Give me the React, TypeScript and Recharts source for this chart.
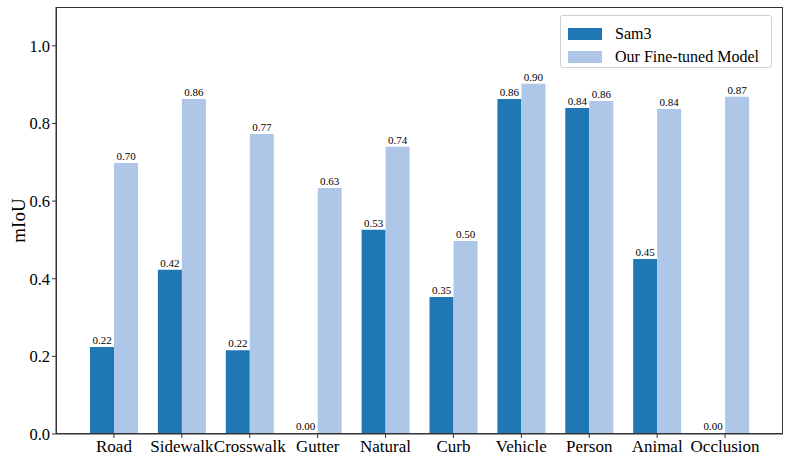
import { BarChart, Bar, XAxis, YAxis, LabelList } from "recharts"

const CATEGORIES = ["Road", "Sidewalk", "Crosswalk", "Gutter", "Natural", "Curb", "Vehicle", "Person", "Animal", "Occlusion"]
const SAM3 = [0.224, 0.423, 0.216, 0.0, 0.526, 0.353, 0.863, 0.840, 0.451, 0.0]
const FINETUNED = [0.698, 0.863, 0.773, 0.634, 0.740, 0.497, 0.902, 0.858, 0.837, 0.869]
const Y_TICKS = [0, 0.2, 0.4, 0.6, 0.8, 1.0]

const SERIES = [
  { key: "sam3", name: "Sam3", color: "#1f77b4" },
  { key: "ft", name: "Our Fine-tuned Model", color: "#aec7e8" },
]

const data = CATEGORIES.map((c, i) => ({ cat: c, sam3: SAM3[i], ft: FINETUNED[i] }))

const FONT = "'Liberation Serif', 'Times New Roman', serif"
const AXIS = "#333333"

export default function App() {
  return (
    <div style={{ position: "fixed", left: 0, top: 0, width: 789, height: 460, background: "#fff", fontFamily: FONT }}>
      <BarChart width={789} height={460} data={data}
        margin={{ top: 7, right: 6, bottom: 0, left: 0 }}
        barGap={0} barCategoryGap={0}>
        <XAxis dataKey="cat" height={26} padding={{ left: 24, right: 24 }}
          stroke={AXIS} tickSize={4} interval={0}
          tick={{ fill: "#000", fontSize: 17, fontFamily: FONT }} />
        <YAxis domain={[0, 1.1]} ticks={Y_TICKS} width={56} stroke={AXIS} tickSize={4}
          tickFormatter={(v: number) => v.toFixed(1)}
          tick={{ fill: "#000", fontSize: 16.5, fontFamily: FONT }}
          label={{ value: "mIoU", angle: -90, position: "insideLeft", offset: 18, style: { fontSize: 19, fontFamily: FONT, fill: "#000", textAnchor: "middle" } }} />
        {SERIES.map(s => (
          <Bar key={s.key} dataKey={s.key} name={s.name} fill={s.color} barSize={24}
            minPointSize={1} isAnimationActive={false}>
            <LabelList dataKey={s.key} position="top" offset={3}
              formatter={(v: any) => Number(v).toFixed(2)}
              style={{ fontSize: 11, fontFamily: FONT, fill: "#000" }} />
          </Bar>
        ))}
      </BarChart>

      {/* plot frame (top/right spines) */}
      <div style={{
        position: "absolute", left: 56, top: 7, width: 727, height: 427,
        border: `1px solid ${AXIS}`, boxSizing: "border-box", pointerEvents: "none"
      }} />

      {/* Legend box */}
      <div style={{
        position: "absolute", left: 560, top: 15, width: 212, height: 53,
        border: "1px solid #d0d0d0", borderRadius: 3, background: "rgba(255,255,255,0.8)",
        boxSizing: "border-box", padding: "6px 0 0 7px"
      }}>
        {SERIES.map(s => (
          <div key={s.key} style={{ display: "flex", alignItems: "center", height: 23, fontSize: 16, color: "#000" }}>
            <span style={{ display: "inline-block", width: 34, height: 12, background: s.color, marginRight: 13 }} />
            {s.name}
          </div>
        ))}
      </div>
    </div>
  )
}
